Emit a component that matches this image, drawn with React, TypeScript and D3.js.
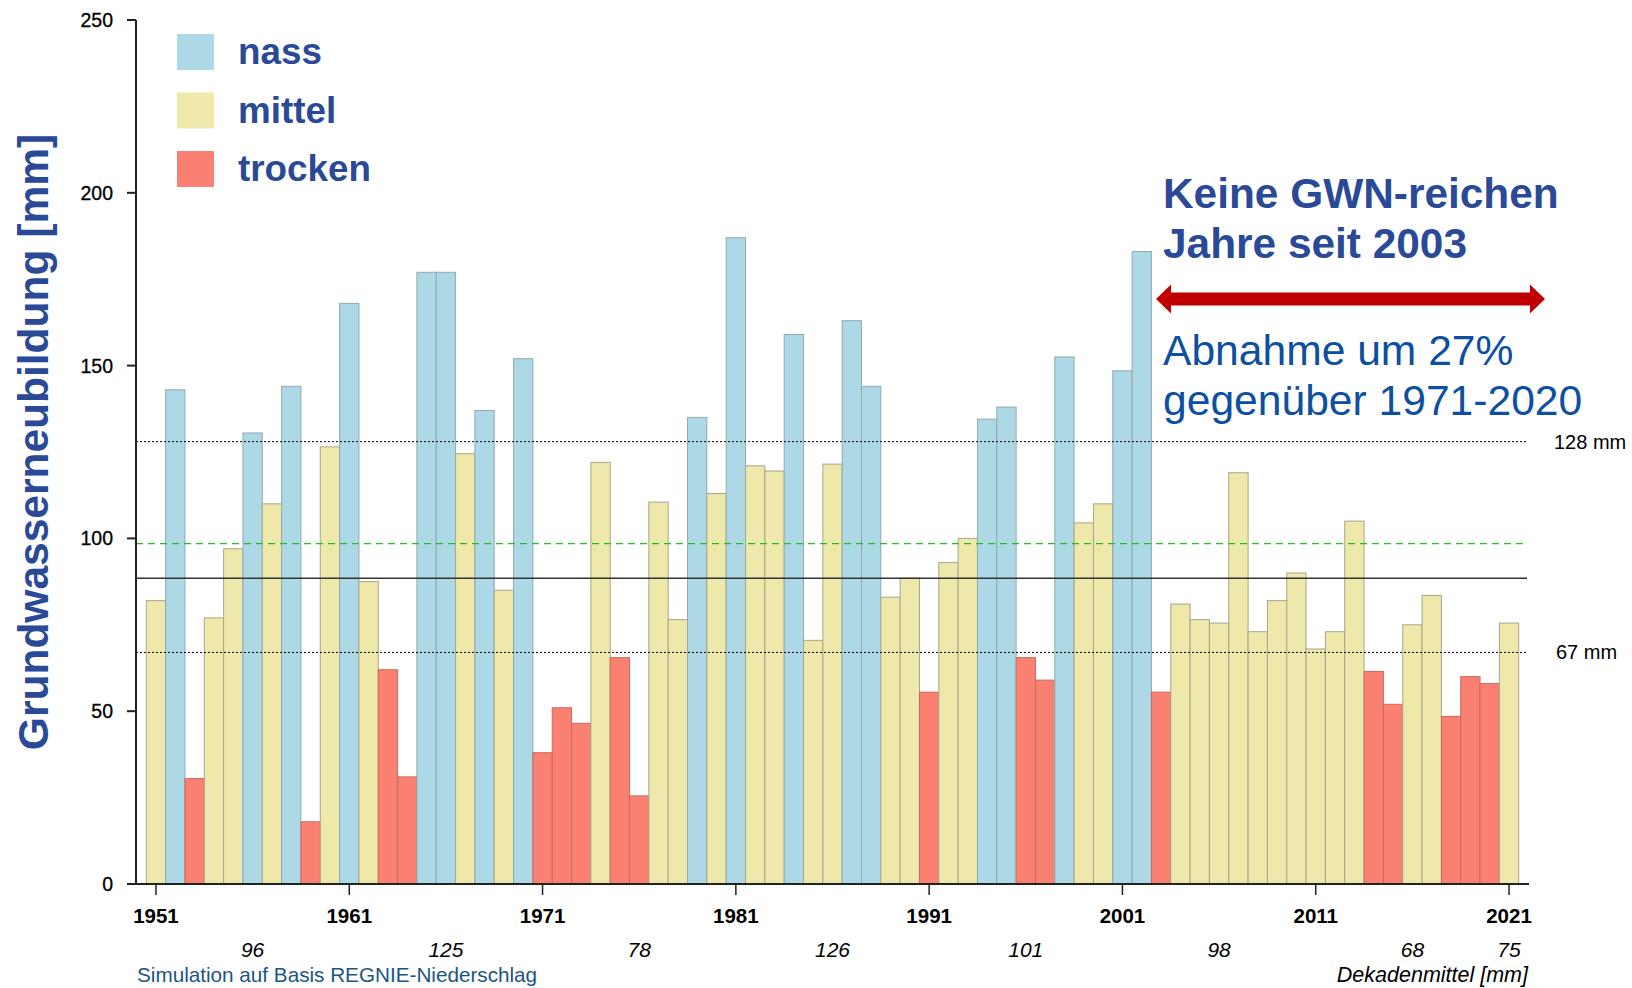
import React from "react";
import * as d3 from "d3";

// Grundwasserneubildung per year (mm)
const startYear = 1951;
const values = [
  82, 143, 30.5, 77, 97, 130.5, 110, 144, 18, 126.5,
  168, 87.5, 62, 31, 177, 177, 124.5, 137, 85, 152,
  38, 51, 46.5, 122, 65.5, 25.5, 110.5, 76.5, 135, 113,
  187, 121, 119.5, 159, 70.5, 121.5, 163, 144, 83, 88.5,
  55.5, 93, 100, 134.5, 138, 65.5, 59, 152.5, 104.5, 110,
  148.5, 183, 55.5, 81, 76.5, 75.5, 119, 73, 82, 90,
  68, 73, 105, 61.5, 52, 75, 83.5, 48.5, 60, 58,
  75.5,
];
// n = nass, m = mittel, t = trocken
const classes = [
  "m", "n", "t", "m", "m", "n", "m", "n", "t", "m",
  "n", "m", "t", "t", "n", "n", "m", "n", "m", "n",
  "t", "t", "t", "m", "t", "t", "m", "m", "n", "m",
  "n", "m", "m", "n", "m", "m", "n", "n", "m", "m",
  "t", "m", "m", "n", "n", "t", "t", "n", "m", "m",
  "n", "n", "t", "m", "m", "m", "m", "m", "m", "m",
  "m", "m", "m", "t", "t", "m", "m", "t", "t", "t",
  "m",
];
const legendKeys = ["n", "m", "t"];
const legendLabels = ["nass", "mittel", "trocken"];
const xTickYears = [1951, 1961, 1971, 1981, 1991, 2001, 2011, 2021];
const yTicks = [0, 50, 100, 150, 200, 250];
const decadeYears = [1956, 1966, 1976, 1986, 1996, 2006, 2016, 2021];
const decadeMeans = ["96", "125", "78", "126", "101", "98", "68", "75"];
const upperLimit = 128;
const lowerLimit = 67;
const meanLine = 88.5;
const greenLine = 98.5;

const colors: Record<string, string> = { n: "#add8e6", m: "#eee8aa", t: "#fa8072" };
const strokes: Record<string, string> = { n: "#93a9b0", m: "#a9a58a", t: "#c86a5f" };

export default function App() {
  const years = values.map((_, i) => startYear + i);
  const x = d3.scaleBand<number>().domain(years).range([146.3, 1518.7]).padding(0);
  const y = d3.scaleLinear().domain([0, 250]).range([884, 20]);
  const cx = (yr: number) => (x(yr) as number) + x.bandwidth() / 2;
  const axisLeft = 136;
  const axisRight = 1529;
  const lineEnd = 1527;
  const font = "Liberation Sans, Arial, sans-serif";
  const blue = "#2a4a97";

  return (
    <svg
      width={1632}
      height={988}
      style={{ position: "fixed", left: 0, top: 0, background: "#fff" }}
      fontFamily={font}
    >
      {/* bars */}
      {values.map((v, i) => (
        <rect
          key={i}
          x={x(years[i])}
          y={y(v)}
          width={x.bandwidth()}
          height={y(0) - y(v)}
          fill={colors[classes[i]]}
          stroke={strokes[classes[i]]}
          strokeWidth={1}
        />
      ))}

      {/* reference lines */}
      <line x1={axisLeft} x2={lineEnd} y1={y(upperLimit)} y2={y(upperLimit)} stroke="#000" strokeDasharray="2,2" strokeWidth={1} />
      <line x1={axisLeft} x2={lineEnd} y1={y(lowerLimit)} y2={y(lowerLimit)} stroke="#000" strokeDasharray="2,2" strokeWidth={1} />
      <line x1={axisLeft} x2={lineEnd} y1={y(greenLine)} y2={y(greenLine)} stroke="#1fbf1f" strokeDasharray="7,5" strokeWidth={1.3} />
      <line x1={axisLeft} x2={lineEnd} y1={y(meanLine)} y2={y(meanLine)} stroke="#333" strokeWidth={1.5} />
      <text x={1554} y={y(upperLimit) + 7} fontSize={20} fill="#000">{upperLimit} mm</text>
      <text x={1556} y={y(lowerLimit) + 7} fontSize={20} fill="#000">{lowerLimit} mm</text>

      {/* y axis */}
      <line x1={axisLeft} x2={axisLeft} y1={y(250)} y2={y(0)} stroke="#222" strokeWidth={2} />
      {yTicks.map((t) => (
        <g key={t}>
          <line x1={axisLeft - 9} x2={axisLeft} y1={y(t)} y2={y(t)} stroke="#222" strokeWidth={2} />
          <text x={axisLeft - 23} y={y(t) + 7} textAnchor="end" fontSize={19.5} fill="#000" stroke="#000" strokeWidth={0.3}>{t}</text>
        </g>
      ))}

      {/* x axis */}
      <line x1={axisLeft} x2={axisRight} y1={y(0)} y2={y(0)} stroke="#222" strokeWidth={2} />
      {xTickYears.map((yr) => (
        <g key={yr}>
          <line x1={cx(yr)} x2={cx(yr)} y1={y(0)} y2={y(0) + 11} stroke="#222" strokeWidth={1.5} />
          <text x={cx(yr)} y={923} textAnchor="middle" fontSize={20.5} fontWeight="bold" fill="#000">{yr}</text>
        </g>
      ))}
      {decadeYears.map((yr, i) => (
        <text key={yr} x={cx(yr)} y={957} textAnchor="middle" fontSize={21} fontStyle="italic" fill="#000">
          {decadeMeans[i]}
        </text>
      ))}
      <text x={137} y={982} fontSize={20.7} fill="#1b5582">Simulation auf Basis REGNIE-Niederschlag</text>
      <text x={1528} y={982} textAnchor="end" fontSize={21.5} fontStyle="italic" fill="#000">Dekadenmittel [mm]</text>

      {/* y title */}
      <text
        transform="translate(48,442) rotate(-90)"
        textAnchor="middle"
        fontSize={42.5}
        fontWeight="bold"
        fill={blue}
      >
        Grundwasserneubildung [mm]
      </text>

      {/* legend */}
      {legendKeys.map((k, i) => (
        <g key={k} transform={`translate(177,${34 + i * 58.5})`}>
          <rect width={37} height={36} fill={colors[k]} />
          <text x={61} y={30} fontSize={36.8} fontWeight="bold" fill={blue}>{legendLabels[i]}</text>
        </g>
      ))}

      {/* annotation */}
      <text x={1163} y={208} fontSize={42.4} fontWeight="bold" fill={blue}>Keine GWN-reichen</text>
      <text x={1163} y={258} fontSize={42.4} fontWeight="bold" fill={blue}>Jahre seit 2003</text>
      <path
        d="M1156,299 L1171,284.5 L1171,292.5 L1530,292.5 L1530,284.5 L1545,299 L1530,313.5 L1530,305.5 L1171,305.5 L1171,313.5 Z"
        fill="#c00000"
      />
      <text x={1163} y={365} fontSize={42.6} fill="#0d4fa0">Abnahme um 27%</text>
      <text x={1163} y={415} fontSize={42.6} fill="#0d4fa0">gegenüber 1971-2020</text>
    </svg>
  );
}
